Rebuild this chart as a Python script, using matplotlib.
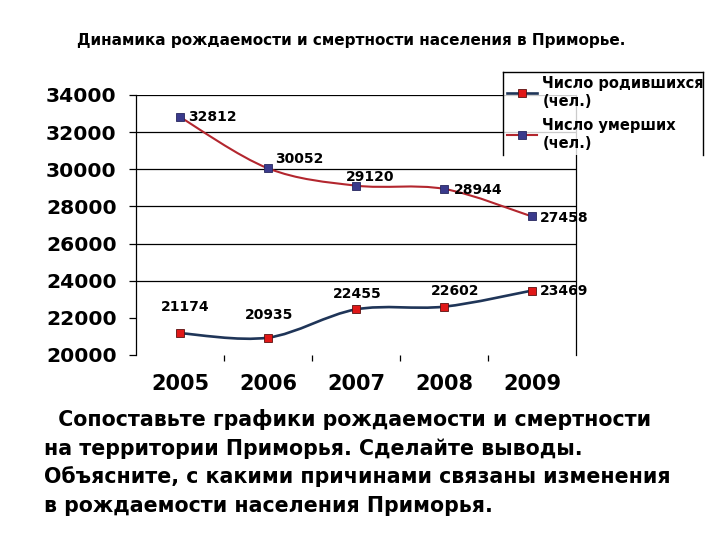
import matplotlib

matplotlib.use("Agg")
import matplotlib.pyplot as plt
from matplotlib.lines import Line2D
from matplotlib.path import Path
from matplotlib.patches import PathPatch
import numpy as np

years = ["2005", "2006", "2007", "2008", "2009"]
births = [21174, 20935, 22455, 22602, 23469]
deaths = [32812, 30052, 29120, 28944, 27458]
y_ticks = [20000, 22000, 24000, 26000, 28000, 30000, 32000, 34000]
grid_levels = [24000, 26000, 28000, 30000, 32000, 34000]

title = "Динамика рождаемости и смертности населения в Приморье."
legend_births = "Число родившихся\n(чел.)"
legend_deaths = "Число умерших\n(чел.)"
body_lines = [
    "  Сопоставьте графики рождаемости и смертности",
    "на территории Приморья. Сделайте выводы.",
    "Объясните, с какими причинами связаны изменения",
    "в рождаемости населения Приморья.",
]

# label offsets in points (dx, dy, ha) - placement only
birth_offsets = [(4, 19, "center"), (1, 16, "center"), (1, 11, "center"), (8, 11, "center"), (6, 0, "left")]
death_offsets = [(6, 0, "left"), (5, 7, "left"), (10, 6, "center"), (7, -1, "left"), (6, -1, "left")]

BIRTH_LINE = "#1f3558"
BIRTH_MARK = "#e01818"
DEATH_LINE = "#b3262e"
DEATH_MARK = "#3a3a8c"

plt.rcParams["font.family"] = ["DejaVu Sans"]
plt.rcParams["font.weight"] = "bold"


def smooth_path(xs, ys):
    # Catmull-Rom style bezier through the data points (like Excel smoothed lines)
    pts = np.column_stack([xs, ys]).astype(float)
    ext = np.vstack([pts[0], pts, pts[-1]])
    verts = [pts[0]]
    codes = [Path.MOVETO]
    for i in range(len(pts) - 1):
        p0, p1, p2, p3 = ext[i], ext[i + 1], ext[i + 2], ext[i + 3]
        c1 = p1 + (p2 - p0) / 6.0
        c2 = p2 - (p3 - p1) / 6.0
        verts += [c1, c2, p2]
        codes += [Path.CURVE4] * 3
    return Path(verts, codes)


fig = plt.figure(figsize=(7.2, 5.4), dpi=100)
ax = fig.add_axes([136 / 720, 185 / 540, 440 / 720, 260 / 540])

x = np.arange(len(years))
for vals, lc, mc, lw in [(births, BIRTH_LINE, BIRTH_MARK, 1.9), (deaths, DEATH_LINE, DEATH_MARK, 1.5)]:
    ax.add_patch(PathPatch(smooth_path(x, vals), facecolor="none", edgecolor=lc, lw=lw, zorder=3))
    ax.plot(x, vals, ls="none", marker="s", ms=6, mfc=mc, mec="#5a1010" if mc == BIRTH_MARK else "#26265e",
            mew=0.6, zorder=4)

for vals, offs in [(births, birth_offsets), (deaths, death_offsets)]:
    for xi, v, (dx, dy, ha) in zip(x, vals, offs):
        ax.annotate(str(v), (xi, v), xytext=(dx, dy), textcoords="offset points", ha=ha, va="center",
                    fontsize=10, fontweight="bold", color="black", zorder=5)

for lvl in grid_levels:
    ax.axhline(lvl, color="black", lw=0.9, zorder=1)

ax.set_xlim(-0.5, len(years) - 0.5)
ax.set_ylim(20000, 34000)
ax.set_yticks(y_ticks)
ax.set_yticklabels([str(t) for t in y_ticks], fontsize=14.6, fontweight="bold")
ax.set_xticks(x)
ax.set_xticklabels(years, fontsize=15, fontweight="bold")
ax.set_xticks(x[:-1] + 0.5, minor=True)
ax.tick_params(axis="x", which="major", length=0, pad=14)
ax.tick_params(axis="x", which="minor", length=4, direction="out", width=0.9)
ax.tick_params(axis="y", length=5, width=0.9, pad=9)
for side in ["top", "bottom"]:
    ax.spines[side].set_visible(False)
ax.spines["left"].set_linewidth(0.9)
ax.spines["right"].set_linewidth(0.9)

fig.text(351 / 720, 1 - 40 / 540, title, ha="center", va="center", fontsize=11, fontweight="bold")

handles = [
    Line2D([], [], color=BIRTH_LINE, lw=1.9, marker="s", ms=6, mfc=BIRTH_MARK, mec="#5a1010", mew=0.6),
    Line2D([], [], color=DEATH_LINE, lw=1.5, marker="s", ms=6, mfc=DEATH_MARK, mec="#26265e", mew=0.6),
]
leg = fig.legend(handles, [legend_births, legend_deaths], loc="upper left",
                 bbox_to_anchor=(503 / 720, 1 - 72 / 540), frameon=True, fancybox=False,
                 prop={"size": 10.5, "weight": "bold"}, handlelength=2.0, handletextpad=0.4,
                 labelspacing=0.65, borderpad=0.3, borderaxespad=0)
leg.get_frame().set_facecolor("white")
leg.get_frame().set_edgecolor("none")
leg.set_zorder(10)
fr = dict(color="black", lw=1.0, zorder=11)
fig.add_artist(Line2D([503 / 720, 503 / 720], [1 - 72 / 540, 1 - 155 / 540], **fr))
fig.add_artist(Line2D([503 / 720, 703 / 720], [1 - 72 / 540, 1 - 72 / 540], **fr))
fig.add_artist(Line2D([703 / 720, 703 / 720], [1 - 72 / 540, 1 - 155 / 540], **fr))

for i, line in enumerate(body_lines):
    fig.text(44 / 720, 1 - (420 + i * 28.5) / 540, line, ha="left", va="center", fontsize=14.8, fontweight="bold")

fig.savefig("out.png", dpi=100, facecolor="white")
